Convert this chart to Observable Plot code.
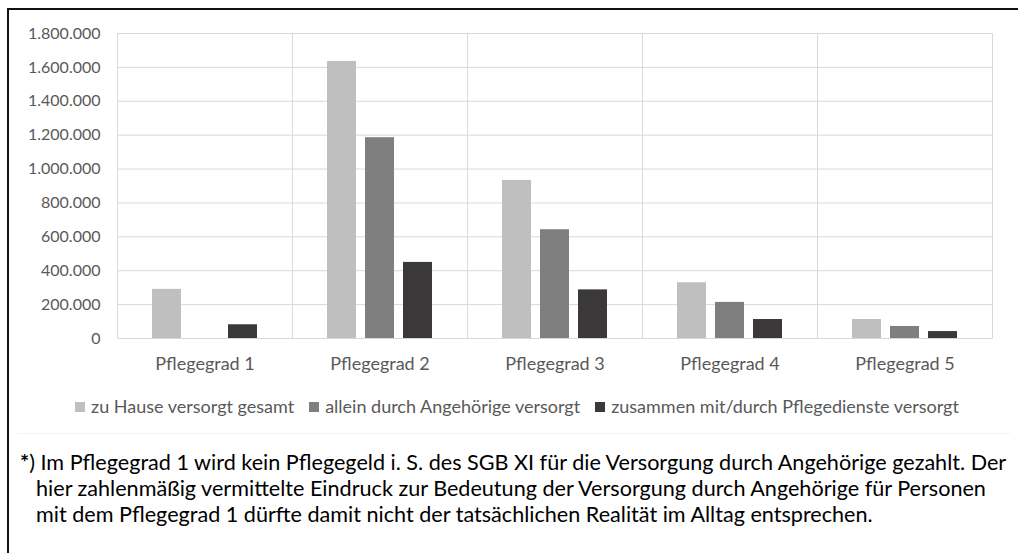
<!DOCTYPE html>
<html>
<head>
<meta charset="utf-8">
<script src="https://cdn.jsdelivr.net/npm/d3@7"></script>
<script src="https://cdn.jsdelivr.net/npm/@observablehq/plot@0.6"></script>
<style>
  html, body { margin: 0; padding: 0; background: #fff; }
  body { width: 1018px; height: 553px; position: relative; overflow: hidden; font-family: Lato, "Open Sans", sans-serif; }
  #frame { position: absolute; left: 7px; top: 8px; right: -10px; bottom: -10px; border-left: 2px solid #111; border-top: 2px solid #111; }
  #chart { position: absolute; left: 0; top: 0; }
  #legend { position: absolute; left: 8px; width: 1018px; top: 396px; display: flex; justify-content: center; gap: 15px; font-size: 18px; line-height: 21px; color: #595959; }
  #legend .item { display: flex; align-items: center; }
  #legend .sw { width: 10px; height: 10px; margin-right: 6px; display: inline-block; }
  #sep { position: absolute; left: 17px; width: 993px; top: 433px; height: 1px; background: #f3f3f3; }
  #note { position: absolute; left: 20px; top: 449px; width: 1000px; font-size: 21.6px; line-height: 26px; color: #000; }
  #note div { white-space: nowrap; }
  #note .ind { padding-left: 16px; }
</style>
</head>
<body>
<div id="frame"></div>
<div id="chart"></div>
<div id="legend"></div>
<div id="sep"></div>
<div id="note">
  <div><b>*</b>) Im Pflegegrad 1 wird kein Pflegegeld i. S. des SGB XI für die Versorgung durch Angehörige gezahlt. Der</div>
  <div class="ind">hier zahlenmäßig vermittelte Eindruck zur Bedeutung der Versorgung durch Angehörige für Personen</div>
  <div class="ind">mit dem Pflegegrad 1 dürfte damit nicht der tatsächlichen Realität im Alltag entsprechen.</div>
</div>
<script>
const categories = ["Pflegegrad 1", "Pflegegrad 2", "Pflegegrad 3", "Pflegegrad 4", "Pflegegrad 5"];
const series = ["zu Hause versorgt gesamt", "allein durch Angehörige versorgt", "zusammen mit/durch Pflegedienste versorgt"];
const zuHause = [290000, 1635000, 933000, 329000, 112000];
const allein = [0, 1185000, 642000, 213000, 71000];
const zusammen = [81000, 449000, 287000, 112000, 41000];
const yTicks = [0, 200000, 400000, 600000, 800000, 1000000, 1200000, 1400000, 1600000, 1800000];
const colors = ["#bfbfbf", "#7f7f7f", "#3a3839"];

const valuesBySeries = [zuHause, allein, zusammen];
const data = [];
categories.forEach((c, i) => {
  series.forEach((s, j) => data.push({grad: c, serie: s, value: valuesBySeries[j][i]}));
});

const fmt = d => d3.format(",")(d).replace(/,/g, ".");

const plot = Plot.plot({
  width: 1018,
  height: 385,
  marginLeft: 116,
  marginRight: 26,
  marginTop: 33,
  marginBottom: 47,
  style: {fontFamily: "Lato, 'Open Sans', sans-serif", color: "#595959", background: "transparent", overflow: "visible"},
  fx: {domain: categories, padding: 0, label: null, axis: null},
  x: {domain: series, paddingInner: 0.225, paddingOuter: 0.876, axis: null},
  y: {domain: [0, 1800000], label: null},
  color: {domain: series, range: colors},
  marks: [
    Plot.gridY(yTicks, {stroke: "#d9d9d9", strokeOpacity: 1, strokeWidth: 1}),
    Plot.frame({stroke: "#d9d9d9", strokeWidth: 1}),
    Plot.barY(data, {fx: "grad", x: "serie", y: "value", fill: "serie"}),
    Plot.axisY({ticks: yTicks, tickFormat: fmt, tickSize: 0, tickPadding: 17, label: null, fontSize: 16, fill: "#595959"}),
    Plot.axisFx({anchor: "bottom", tickSize: 0, tickPadding: 19, label: null, fontSize: 18, fill: "#595959"})
  ]
});
document.getElementById("chart").appendChild(plot);

const legend = document.getElementById("legend");
series.forEach((s, j) => {
  const item = document.createElement("div");
  item.className = "item";
  const sw = document.createElement("span");
  sw.className = "sw";
  sw.style.background = colors[j];
  item.appendChild(sw);
  item.appendChild(document.createTextNode(s));
  legend.appendChild(item);
});
</script>
</body>
</html>
